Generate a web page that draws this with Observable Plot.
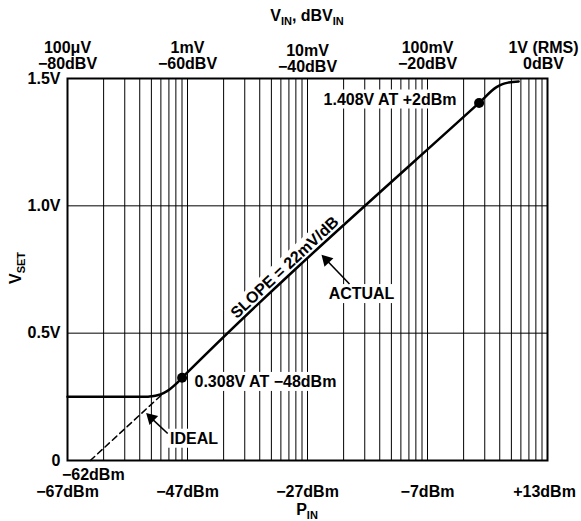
<!DOCTYPE html>
<html><head><meta charset="utf-8">
<script src="https://cdn.jsdelivr.net/npm/d3@7"></script>
<script src="https://cdn.jsdelivr.net/npm/@observablehq/plot@0.6"></script>
<style>
body{margin:0;background:#fff;}
#chart svg{font-family:"Liberation Sans",Arial,Helvetica,sans-serif;font-weight:bold;}
</style>
</head><body><div id="chart"></div>
<script>
// ---- data ----
const actualP = [-67, -54, -53, -52, -51, -50, -49, -47.9, 1.6, 4.5, 5.5, 6.5, 8.2];
const actualV = [0.25, 0.25, 0.252, 0.256, 0.265, 0.279, 0.299, 0.325, 1.404, 1.466, 1.478, 1.484, 1.488];
const idealP = [-63.2, -51.3];
const idealV = [0, 0.258];
const markerP = [-47.9, 1.6];
const markerV = [0.325, 1.404];

const bottomTicks = [-67, -47, -27, -7, 13];
const bottomTickLabels = ["−67dBm", "−47dBm", "−27dBm", "−7dBm", "+13dBm"];
const topTicks = [-67, -47, -27, -7, 13];
const topTickLabels = ["100μV\n−80dBV", "1mV\n−60dBV", "10mV\n−40dBV", "100mV\n−20dBV", "1V (RMS)\n0dBV"];
const yTicks = [0, 0.5, 1.0, 1.5];
const yTickLabels = ["0", "0.5V", "1.0V", "1.5V"];
const extraTickP = [-62.7];
const extraTickLabel = ["−62dBm"];

// vertical grid: voltage decades × mantissas (converted to dBm, 0dBV = +13dBm)
const gridDecades = [1e-4, 1e-3, 1e-2, 1e-1];
const gridMantissas = [1, 2, 3, 4, 5, 6, 7, 8, 9];
const hGrid = [0.5, 1.0];

const annotText = ["1.408V AT +2dBm", "0.308V AT −48dBm", "IDEAL", "ACTUAL", "SLOPE = 22mV/dB"];
const annotP = [-13.25, -45.83, -45.9, -18.0, -30.8];
const annotV = [1.418, 0.309, 0.086, 0.654, 0.758];

const arrowFromP = [-20.0, -50.3];
const arrowFromV = [0.693, 0.106];
const arrowToP = [-24.8, -54.0];
const arrowToV = [0.811, 0.188];
const arrowHeadAt = [0.8, 0.74];     // fraction along the arrow where the head's centre sits
const arrowHeadAngle = [-44, -46];   // degrees, clockwise from up

// ---- tables ----
const gridP = [];
for (const d of gridDecades) for (const m of gridMantissas) {
  const p = 20 * Math.log10(m * d) + 13;
  if (p > -66.9) gridP.push(p);
}
const actual = actualP.map((p, i) => ({p, v: actualV[i]}));
const ideal = idealP.map((p, i) => ({p, v: idealV[i]}));
const markers = markerP.map((p, i) => ({p, v: markerV[i]}));
const annots = annotText.map((t, i) => ({t, p: annotP[i], v: annotV[i]}));
const arrows = arrowFromP.map((p, i) => ({
  x1: p, y1: arrowFromV[i], x2: arrowToP[i], y2: arrowToV[i],
  hx: p + (arrowToP[i] - p) * arrowHeadAt[i],
  hy: arrowFromV[i] + (arrowToV[i] - arrowFromV[i]) * arrowHeadAt[i],
  rot: arrowHeadAngle[i]
}));
const fmt = (ticks, labels) => d => labels[ticks.indexOf(d)];

const chart = Plot.plot({
  width: 581, height: 521,
  marginLeft: 67, marginRight: 34, marginTop: 78, marginBottom: 61,
  style: {fontFamily: '"Liberation Sans", Arial, sans-serif', fontSize: "16px", fontWeight: "bold", color: "#000", background: "#fff", overflow: "visible"},
  x: {domain: [-67, 13]},
  y: {domain: [0, 1.5]},
  marks: [
    Plot.ruleX(gridP, {stroke: "#000", strokeWidth: 1}),
    Plot.ruleY(hGrid, {stroke: "#000", strokeWidth: 1}),
    Plot.frame({stroke: "#000", strokeWidth: 2}),
    Plot.axisX({anchor: "bottom", ticks: bottomTicks.filter(d => d !== 13), tickFormat: fmt(bottomTicks, bottomTickLabels), tickSize: 0, tickPadding: 25, fontSize: 16, label: null}),
    Plot.axisX({anchor: "bottom", ticks: [13], tickFormat: fmt(bottomTicks, bottomTickLabels), tickSize: 0, tickPadding: 25, dx: -3, fontSize: 16, label: null}),
    Plot.axisX({anchor: "top", ticks: [-67, -47, -7], tickFormat: fmt(topTicks, topTickLabels), tickSize: 0, tickPadding: 10, lineHeight: 1.0, fontSize: 16, label: null}),
    Plot.axisX({anchor: "top", ticks: [13], tickFormat: fmt(topTicks, topTickLabels), tickSize: 0, tickPadding: 10, lineHeight: 1.0, dx: -4, fontSize: 16, label: null}),
    Plot.axisX({anchor: "top", ticks: [-27], tickFormat: fmt(topTicks, topTickLabels), tickSize: 0, tickPadding: 7, lineHeight: 1.0, fontSize: 16, label: null}),
    Plot.axisY({ticks: yTicks, tickFormat: fmt(yTicks, yTickLabels), tickSize: 0, tickPadding: 7, fontSize: 16, label: null}),
    Plot.text(extraTickP, {x: d => d, y: 0, text: (d, i) => extraTickLabel[i], dy: 14, fontSize: 16, fill: "#000"}),
    Plot.text(annots.filter(d => d.t === "1.408V AT +2dBm" || d.t === "IDEAL" || d.t === "ACTUAL"), {x: "p", y: "v", text: "t", textAnchor: "middle", fontSize: 16, fill: "#000"}),
    Plot.text(annots.filter(d => d.t === "0.308V AT −48dBm"), {x: "p", y: "v", text: "t", textAnchor: "start", fontSize: 16, fill: "#000"}),
    Plot.text(annots.filter(d => d.t === "SLOPE = 22mV/dB"), {x: "p", y: "v", text: "t", textAnchor: "middle", rotate: -43, fontSize: 16, fill: "#000"}),
    Plot.link(arrows, {x1: "x1", y1: "y1", x2: "hx", y2: "hy", stroke: "#000", strokeWidth: 1.6}),
    Plot.dot(arrows, {x: "hx", y: "hy", symbol: "triangle", r: 4.6, rotate: "rot", fill: "#000", stroke: "none"}),
    Plot.line(ideal, {x: "p", y: "v", stroke: "#000", strokeWidth: 1.5, strokeDasharray: "6,4"}),
    Plot.line(actual, {x: "p", y: "v", stroke: "#000", strokeWidth: 2.5, curve: "monotone-x"}),
    Plot.dot(markers, {x: "p", y: "v", r: 5, fill: "#000"})
  ]
});

document.getElementById("chart").append(chart);

// white boxes behind annotations
d3.select(chart).selectAll("text").filter(function () { return annotText.includes(this.textContent); }).each(function () {
  const b = this.getBBox();
  const r = document.createElementNS("http://www.w3.org/2000/svg", "rect");
  r.setAttribute("x", b.x - 3);
  r.setAttribute("y", b.y - 1);
  r.setAttribute("width", b.width + 6);
  r.setAttribute("height", b.height + 2);
  r.setAttribute("fill", "#fff");
  r.setAttribute("stroke", "none");
  const t = this.getAttribute("transform");
  if (t) r.setAttribute("transform", t);
  this.parentNode.insertBefore(r, this);
});

// axis titles with subscripts
const svg = d3.select(chart);
function title(x, y, parts, rot) {
  const t = svg.append("text")
    .attr("transform", `translate(${x},${y})` + (rot ? ` rotate(${rot})` : ""))
    .attr("text-anchor", "middle").attr("fill", "#000")
    .attr("font-size", 16).attr("font-weight", "bold");
  let shifted = false;
  for (const [s, sub] of parts) {
    const ts = t.append("tspan").text(s);
    if (sub && !shifted) { ts.attr("dy", 4).attr("font-size", 11); shifted = true; }
    else if (!sub && shifted) { ts.attr("dy", -4); shifted = false; }
  }
}
title(307, 21, [["V", false], ["IN", true], [", dBV", false], ["IN", true]]);
title(307, 515, [["P", false], ["IN", true]]);
title(21, 268, [["V", false], ["SET", true]], -90);
</script>
</body></html>
